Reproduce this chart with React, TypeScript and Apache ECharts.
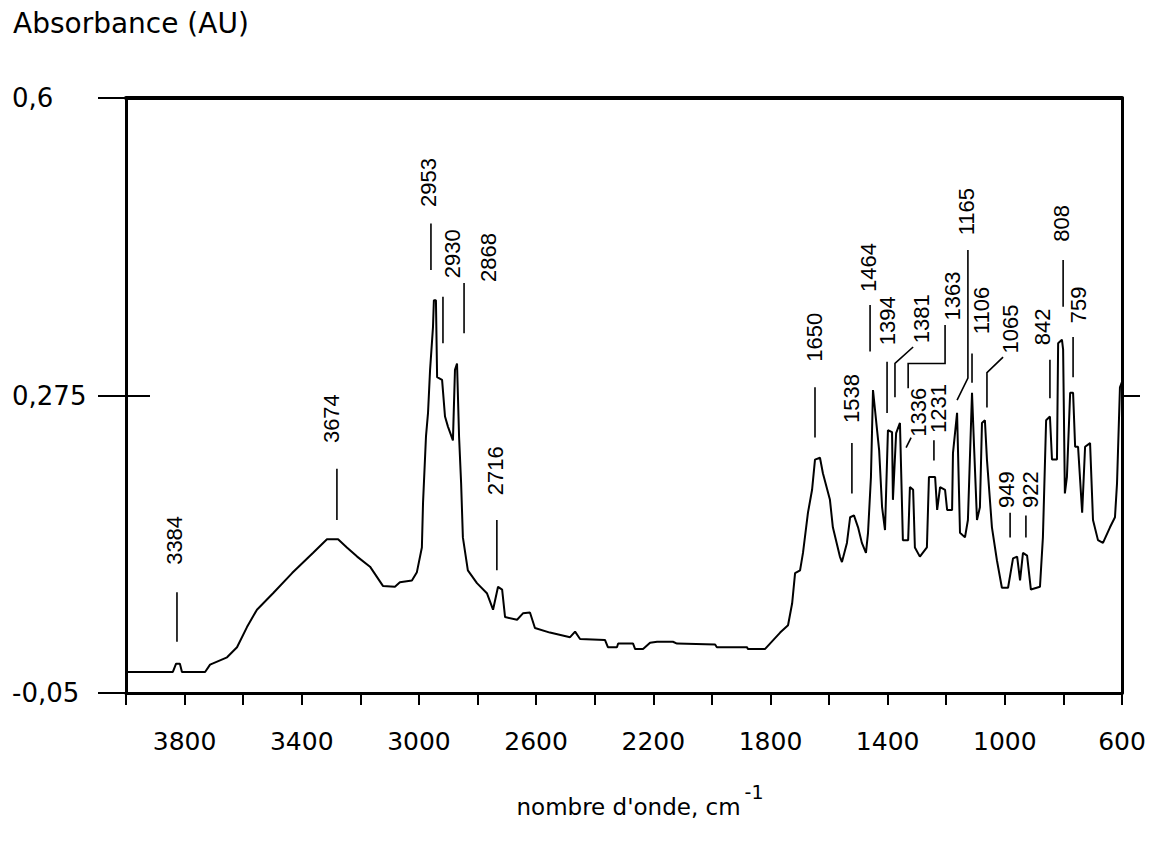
import React, { useEffect, useRef } from 'react';
import * as echarts from 'echarts';

// Spectrum: wavenumber (cm-1) and absorbance (AU)
const specWn = [
  4000, 3840, 3829, 3816, 3809, 3730, 3713, 3655, 3621, 3587, 3553, 3498, 3433, 3362, 3314, 3276,
  3246, 3211, 3167, 3123, 3082, 3065, 3024, 3007, 2990, 2986, 2976, 2969, 2962, 2952, 2949, 2942,
  2938, 2921, 2911, 2901, 2884, 2877, 2870, 2863, 2856, 2850, 2833, 2802, 2768, 2747, 2730, 2716,
  2706, 2665, 2645, 2621, 2604, 2553, 2484, 2467, 2450, 2365, 2355, 2324, 2320, 2269, 2262, 2235,
  2211, 2187, 2133, 2119, 1989, 1983, 1880, 1877, 1819, 1767, 1740, 1726, 1716, 1699, 1689, 1672,
  1658, 1648, 1631, 1621, 1597, 1587, 1563, 1556, 1539, 1528, 1515, 1501, 1488, 1474, 1467, 1457,
  1450, 1436, 1429, 1419, 1409, 1399, 1385, 1382, 1371, 1358, 1348, 1330, 1324, 1313, 1307, 1290,
  1266, 1259, 1238, 1231, 1221, 1204, 1197, 1180, 1177, 1163, 1153, 1136, 1126, 1112, 1105, 1095,
  1085, 1078, 1068, 1061, 1044, 1027, 1010, 989, 972, 958, 948, 938, 924, 911, 880, 870,
  859, 846, 839, 822, 818, 805, 801, 795, 788, 777, 767, 760, 750, 736, 726, 709,
  699, 682, 665, 641, 624, 617, 607, 600,
];
const specAbs = [
  -0.027, -0.027, -0.018, -0.018, -0.027, -0.027, -0.019, -0.011, 0.0, 0.022, 0.041, 0.059, 0.081, 0.103, 0.118, 0.118,
  0.109, 0.099, 0.088, 0.067, 0.066, 0.071, 0.073, 0.082, 0.109, 0.158, 0.23, 0.256, 0.303, 0.35, 0.379, 0.379,
  0.295, 0.292, 0.252, 0.241, 0.226, 0.303, 0.31, 0.23, 0.179, 0.12, 0.084, 0.07, 0.059, 0.041, 0.066, 0.063,
  0.033, 0.03, 0.037, 0.038, 0.021, 0.016, 0.011, 0.017, 0.009, 0.008, 0.0, 0.0, 0.004, 0.004, -0.002, -0.002,
  0.005, 0.006, 0.006, 0.004, 0.003, 0.0, 0.0, -0.002, -0.002, 0.016, 0.024, 0.048, 0.081, 0.084, 0.103, 0.147,
  0.172, 0.205, 0.207, 0.19, 0.161, 0.131, 0.099, 0.093, 0.114, 0.142, 0.144, 0.131, 0.114, 0.103, 0.125, 0.186,
  0.281, 0.237, 0.215, 0.153, 0.128, 0.237, 0.235, 0.161, 0.234, 0.245, 0.117, 0.117, 0.175, 0.172, 0.109, 0.099,
  0.109, 0.186, 0.186, 0.15, 0.175, 0.172, 0.15, 0.15, 0.212, 0.256, 0.125, 0.12, 0.139, 0.278, 0.219, 0.139,
  0.153, 0.245, 0.248, 0.205, 0.131, 0.095, 0.065, 0.065, 0.097, 0.099, 0.073, 0.103, 0.1, 0.063, 0.066, 0.12,
  0.248, 0.252, 0.205, 0.205, 0.332, 0.336, 0.325, 0.168, 0.186, 0.278, 0.278, 0.219, 0.219, 0.147, 0.219, 0.223,
  0.139, 0.117, 0.114, 0.131, 0.142, 0.179, 0.284, 0.29,
];

const xLabelValues = [3800, 3400, 3000, 2600, 2200, 1800, 1400, 1000, 600];
const yTickValues = [-0.05, 0.275, 0.6];

// Peak annotations: label text, text anchor (bottom of the rotated text), marker line
const peakLabels = ['3384', '3674', '2953', '2930', '2868', '2716', '1650', '1538', '1464', '1394', '1381',
  '1363', '1336', '1231', '1165', '1106', '1065', '949', '922', '842', '808', '759'];
const peakTextWn = [3836, 3300, 2966, 2887, 2761, 2737, 1651, 1525, 1464, 1402, 1283,
  1180, 1296, 1225, 1132, 1078, 979, 993, 911, 873, 808, 747];
const peakTextAbs = [0.09, 0.223, 0.481, 0.403, 0.399, 0.166, 0.312, 0.245, 0.388, 0.33, 0.332,
  0.357, 0.23, 0.234, 0.45, 0.342, 0.321, 0.152, 0.152, 0.33, 0.443, 0.354];
const peakLines: number[][][] = [
  [[3826, 0.06], [3826, 0.006]],
  [[3280, 0.195], [3280, 0.139]],
  [[2959, 0.463], [2959, 0.412]],
  [[2918, 0.383], [2918, 0.332]],
  [[2846, 0.398], [2846, 0.343]],
  [[2734, 0.139], [2734, 0.084]],
  [[1648, 0.284], [1648, 0.229]],
  [[1522, 0.223], [1522, 0.168]],
  [[1460, 0.374], [1460, 0.323]],
  [[1402, 0.312], [1402, 0.256]],
  [[1313, 0.328], [1375, 0.31], [1375, 0.273]],
  [[1204, 0.352], [1204, 0.31], [1330, 0.31], [1330, 0.283]],
  [[1320, 0.229], [1337, 0.218]],
  [[1242, 0.226], [1242, 0.204]],
  [[1126, 0.434], [1126, 0.294], [1163, 0.27]],
  [[1112, 0.321], [1112, 0.289]],
  [[1006, 0.317], [1061, 0.3], [1061, 0.262]],
  [[982, 0.147], [982, 0.12]],
  [[928, 0.144], [928, 0.12]],
  [[846, 0.314], [846, 0.272]],
  [[801, 0.423], [801, 0.372]],
  [[767, 0.339], [767, 0.295]],
];

const AXIS_FONT = 'DejaVu Sans';
const PEAK_FONT = 'Liberation Sans';

export default function App() {
  const ref = useRef<HTMLDivElement>(null);

  useEffect(() => {
    if (!ref.current) return;
    const chart = echarts.init(ref.current, undefined, { renderer: 'svg' });
    const spectrum = specWn.map((w, i) => [w, specAbs[i]]);
    const peaks = peakLabels.map((_, i) => [peakTextWn[i], peakTextAbs[i]]);

    const fmtY = (v: number) => String(v).replace('.', ',');
    const fmtX = (v: number) => String(v);

    chart.setOption({
      animation: false,
      backgroundColor: '#ffffff',
      title: {
        text: 'Absorbance (AU)',
        left: 13,
        top: 9,
        padding: 0,
        textStyle: { fontFamily: AXIS_FONT, fontSize: 28, fontWeight: 'normal', color: '#000' },
      },
      grid: { left: 126, right: 36, top: 98, bottom: 150, containLabel: false },
      xAxis: [
        {
          type: 'value',
          position: 'bottom',
          min: 600,
          max: 4000,
          interval: 200,
          inverse: true,
          splitLine: { show: false },
          axisLine: { show: true, onZero: false, lineStyle: { color: '#000', width: 3 } },
          axisTick: { show: true, inside: false, length: 12, lineStyle: { color: '#000', width: 2 } },
          axisLabel: {
            show: true,
            customValues: xLabelValues,
            formatter: fmtX,
            margin: 36,
            fontFamily: AXIS_FONT,
            fontSize: 25,
            color: '#000',
          },
        },
        {
          type: 'value',
          position: 'top',
          min: 600,
          max: 4000,
          inverse: true,
          splitLine: { show: false },
          axisLine: { show: true, onZero: false, lineStyle: { color: '#000', width: 4 } },
          axisTick: { show: false },
          axisLabel: { show: false },
        },
      ],
      yAxis: [
        {
          type: 'value',
          position: 'left',
          min: -0.05,
          max: 0.6,
          splitLine: { show: false },
          axisLine: { show: true, onZero: false, lineStyle: { color: '#000', width: 3 } },
          axisTick: { show: true, customValues: yTickValues, length: 28, lineStyle: { color: '#000', width: 2 } },
          axisLabel: {
            show: true,
            customValues: yTickValues,
            formatter: fmtY,
            align: 'left',
            margin: 114,
            fontFamily: AXIS_FONT,
            fontSize: 26,
            color: '#000',
          },
        },
        {
          type: 'value',
          position: 'right',
          min: -0.05,
          max: 0.6,
          splitLine: { show: false },
          axisLine: { show: true, onZero: false, lineStyle: { color: '#000', width: 3 } },
          axisTick: { show: true, customValues: [0.275], length: 18, lineStyle: { color: '#000', width: 2 } },
          axisLabel: { show: false },
        },
        {
          type: 'value',
          position: 'left',
          min: -0.05,
          max: 0.6,
          splitLine: { show: false },
          axisLine: { show: false },
          axisTick: { show: true, inside: true, customValues: [0.275], length: 24, lineStyle: { color: '#000', width: 2 } },
          axisLabel: { show: false },
        },
      ],
      graphic: [
        {
          type: 'text',
          x: 640,
          y: 800,
          style: {
            text: "{a|nombre d'onde, cm}{b|-1}",
            align: 'center',
            verticalAlign: 'middle',
            fill: '#000',
            rich: {
              a: { fontFamily: AXIS_FONT, fontSize: 23, color: '#000', lineHeight: 36, verticalAlign: 'bottom' },
              b: { fontFamily: AXIS_FONT, fontSize: 19, color: '#000', lineHeight: 36, verticalAlign: 'top', padding: [0, 0, 0, 4] },
            },
          },
        },
      ],
      series: [
        {
          type: 'line',
          xAxisIndex: 0,
          yAxisIndex: 0,
          data: spectrum,
          showSymbol: false,
          symbol: 'none',
          lineStyle: { color: '#000', width: 2 },
          silent: true,
        },
        {
          type: 'custom',
          xAxisIndex: 0,
          yAxisIndex: 0,
          data: peaks,
          encode: { x: 0, y: 1 },
          clip: false,
          silent: true,
          renderItem: (params: any, api: any) => {
            const i = params.dataIndex;
            const tp = api.coord([peakTextWn[i], peakTextAbs[i]]);
            const pts = peakLines[i].map((p) => api.coord(p));
            return {
              type: 'group',
              children: [
                {
                  type: 'polyline',
                  shape: { points: pts },
                  style: { stroke: '#000', lineWidth: 1.6, fill: 'none' },
                },
                {
                  type: 'text',
                  x: tp[0],
                  y: tp[1],
                  rotation: Math.PI / 2,
                  style: {
                    text: peakLabels[i],
                    fill: '#000',
                    fontFamily: PEAK_FONT,
                    fontSize: 22,
                    align: 'left',
                    verticalAlign: 'middle',
                  },
                },
              ],
            };
          },
        },
      ],
    });

    return () => {
      chart.dispose();
    };
  }, []);

  return (
    <div
      ref={ref}
      style={{ position: 'fixed', left: 0, top: 0, width: 1158, height: 843, background: '#fff' }}
    />
  );
}
